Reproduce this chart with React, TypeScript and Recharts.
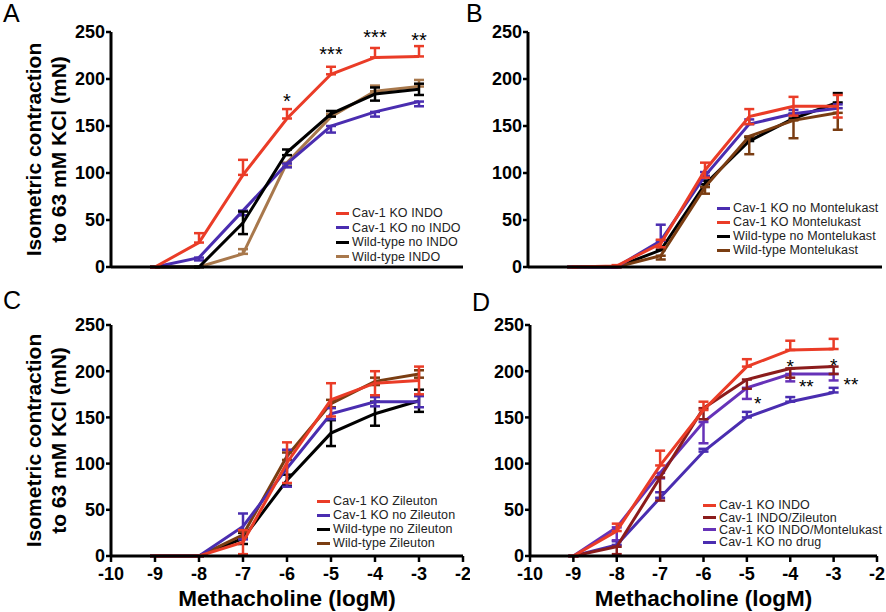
import React from 'react';
import {
    LineChart,
    Line,
    XAxis,
    YAxis,
    ErrorBar,
    Legend,
    ReferenceDot,
} from 'recharts';

const FONT = '"Liberation Sans", Arial, Helvetica, sans-serif';

const doses = [-9, -8, -7, -6, -5, -4, -3];
const xTicks = [-10, -9, -8, -7, -6, -5, -4, -3, -2];
const yTicks = [0, 50, 100, 150, 200, 250];

// colours
const RED = '#ea3c27';
const BLUE = '#4a2db0';
const BLACK = '#000000';
const TAN = '#a8784c';
const BROWN = '#7a3d12';
const DARKRED = '#8b1c1c';
const PURPLE = '#6632b8';

// A: indomethacin
const aKoIndo = [0, 26, 98, 158, 205, 223, 224];
const aKoIndoErr = [[0, 0], [0, 10], [0, 16], [0, 10], [0, 8], [0, 10], [0, 11]];
const aKoNoIndo = [0, 10, 60, 110, 150, 165, 176];
const aKoNoIndoErr = [[0, 0], [3, 0], [5, 0], [4, 0], [7, 0], [5, 0], [5, 0]];
const aWtNoIndo = [0, 0, 47, 122, 163, 184, 189];
const aWtNoIndoErr = [[0, 0], [0, 0], [12, 12], [3, 3], [3, 3], [7, 7], [6, 6]];
const aWtIndo = [0, 0, 14, 111, 160, 187, 192];
const aWtIndoErr = [[0, 0], [0, 0], [0, 5], [4, 0], [0, 3], [0, 6], [0, 7]];
const aStarX = [-6, -5, -4, -3];
const aStarY = [181, 231, 249, 246];
const aStarText = ['*', '***', '***', '**'];

// B: montelukast
const bKoNoMonte = [0, 0, 28, 97, 152, 163, 169];
const bKoNoMonteErr = [[0, 0], [0, 0], [0, 17], [0, 4], [0, 5], [0, 4], [0, 4]];
const bKoMonte = [0, 1, 25, 103, 160, 171, 171];
const bKoMonteErr = [[0, 0], [1, 1], [4, 4], [8, 8], [8, 8], [10, 10], [12, 12]];
const bWtNoMonte = [0, 0, 18, 88, 134, 158, 175];
const bWtNoMonteErr = [[0, 0], [0, 0], [0, 3], [0, 4], [0, 4], [0, 5], [0, 10]];
const bWtMonte = [0, 0, 12, 85, 139, 156, 164];
const bWtMonteErr = [[0, 0], [0, 0], [4, 0], [7, 0], [19, 0], [19, 0], [18, 0]];

// C: zileuton
const cKoZileuton = [0, 0, 15, 101, 169, 187, 190];
const cKoZileutonErr = [[0, 0], [0, 0], [13, 13], [22, 22], [18, 18], [13, 13], [15, 15]];
const cKoNoZileuton = [0, 0, 32, 95, 154, 167, 167];
const cKoNoZileutonErr = [[0, 0], [0, 0], [14, 14], [20, 20], [6, 6], [5, 5], [6, 6]];
const cWtNoZileuton = [0, 0, 19, 82, 133, 154, 168];
const cWtNoZileutonErr = [[0, 0], [0, 0], [6, 6], [6, 6], [14, 14], [13, 13], [12, 12]];
const cWtZileuton = [0, 0, 23, 108, 165, 189, 197];
const cWtZileutonErr = [[0, 0], [0, 0], [3, 3], [4, 4], [4, 4], [4, 4], [4, 4]];

// D: combinations
const dKoIndo = [0, 27, 98, 158, 205, 223, 224];
const dKoIndoErr = [[0, 0], [0, 8], [0, 16], [0, 9], [0, 8], [0, 10], [0, 11]];
const dIndoZileuton = [0, 10, 85, 160, 191, 203, 205];
const dIndoZileutonErr = [[0, 0], [8, 0], [25, 0], [12, 0], [10, 0], [10, 0], [8, 0]];
const dIndoMonte = [0, 31, 90, 145, 182, 197, 197];
const dIndoMonteErr = [[0, 0], [14, 0], [6, 0], [23, 0], [12, 0], [8, 0], [7, 0]];
const dNoDrug = [0, 12, 63, 113, 150, 167, 177];
const dNoDrugErr = [[0, 0], [0, 4], [0, 6], [0, 3], [0, 6], [0, 5], [0, 5]];
const dStarX = [-4, -3, -3.63, -4.75, -2.6];
const dStarY = [210, 211, 188, 170, 190];
const dStarText = ['*', '*', '**', '*', '**'];

type Series = {
    key: string;
    name: string;
    color: string;
    values: number[];
    err: number[][];
};

const buildRows = (series: Series[]) =>
    doses.map((x, i) => {
        const row: any = { x };
        series.forEach((s) => {
            row[s.key] = s.values[i];
            row[s.key + 'Err'] = s.err[i];
        });
        return row;
    });

const LegendBox = ({ items, rowHeight }: { items: Series[]; rowHeight: number }) => (
    <div style={{ fontFamily: FONT, fontSize: 12.5, letterSpacing: 0.1, color: '#222' }}>
        {items.map((s) => (
            <div
                key={s.key}
                style={{ display: 'flex', alignItems: 'center', height: rowHeight, whiteSpace: 'nowrap' }}
            >
                <span
                    style={{
                        display: 'inline-block',
                        width: 13,
                        height: 3,
                        background: s.color,
                        marginRight: 3,
                    }}
                />
                {s.name}
            </div>
        ))}
    </div>
);

const YTitle = (props: any) => {
    const { viewBox } = props;
    const cy = viewBox.y + viewBox.height / 2;
    const style = { fontFamily: FONT, fontSize: 21, fontWeight: 'bold' as const };
    return (
        <g>
            <text transform={`translate(41, ${cy}) rotate(-90)`} textAnchor="middle" fill="#000" style={style}>
                Isometric contraction
            </text>
            <text transform={`translate(66, ${cy}) rotate(-90)`} textAnchor="middle" fill="#000" style={style}>
                to 63 mM KCl (mN)
            </text>
        </g>
    );
};

const starShape = (text: string, size: number) => (p: any) => (
    <text
        x={p.cx}
        y={p.cy + size * 0.57}
        textAnchor="middle"
        fill="#000"
        style={{ fontFamily: FONT, fontSize: size }}
    >
        {text}
    </text>
);

interface PanelProps {
    left: number;
    top: number;
    width: number;
    height: number;
    marginTop: number;
    marginRight: number;
    yAxisWidth: number;
    xAxisHeight: number;
    showXLabels: boolean;
    showYTitle: boolean;
    draw: Series[];
    legend: Series[];
    legendLeft: number;
    legendTop: number;
    legendRow: number;
    stars?: { x: number[]; y: number[]; text: string[]; size: number };
}

const tickStyle = { fill: '#000', fontSize: 18, fontWeight: 'bold', fontFamily: FONT };

const Panel: React.FC<PanelProps> = (p) => {
    const data = buildRows(p.draw);
    return (
        <div style={{ position: 'absolute', left: p.left, top: p.top }}>
            <LineChart
                width={p.width}
                height={p.height}
                data={data}
                margin={{ top: p.marginTop, right: p.marginRight, bottom: 0, left: 0 }}
            >
                <XAxis
                    dataKey="x"
                    type="number"
                    domain={[-10, -2]}
                    ticks={xTicks}
                    interval={0}
                    height={p.xAxisHeight}
                    axisLine={{ stroke: '#000', strokeWidth: 3 }}
                    tickLine={{ stroke: '#000', strokeWidth: 2.5 }}
                    tickSize={6}
                    tickMargin={5}
                    tick={p.showXLabels ? tickStyle : false}
                    label={
                        p.showXLabels
                            ? {
                                  value: 'Methacholine (logM)',
                                  position: 'insideBottom',
                                  offset: 6,
                                  fill: '#000',
                                  style: { fontFamily: FONT, fontSize: 22.5, fontWeight: 'bold' },
                              }
                            : undefined
                    }
                />
                <YAxis
                    type="number"
                    domain={[0, 250]}
                    ticks={yTicks}
                    width={p.yAxisWidth}
                    axisLine={{ stroke: '#000', strokeWidth: 3 }}
                    tickLine={{ stroke: '#000', strokeWidth: 2.5 }}
                    tickSize={5}
                    tickMargin={1}
                    tick={tickStyle}
                    label={p.showYTitle ? { content: <YTitle /> } : undefined}
                />
                {p.draw.map((s) => (
                    <Line
                        key={s.key}
                        type="linear"
                        dataKey={s.key}
                        name={s.name}
                        stroke={s.color}
                        strokeWidth={3}
                        dot={false}
                        activeDot={false}
                        isAnimationActive={false}
                    >
                        <ErrorBar
                            dataKey={s.key + 'Err'}
                            direction="y"
                            width={5}
                            stroke={s.color}
                            strokeWidth={2.5}
                            isAnimationActive={false}
                        />
                    </Line>
                ))}
                {p.stars &&
                    p.stars.x.map((x, i) => (
                        <ReferenceDot
                            key={i}
                            x={x}
                            y={p.stars!.y[i]}
                            r={0}
                            ifOverflow="visible"
                            shape={starShape(p.stars!.text[i], p.stars!.size)}
                        />
                    ))}
                <Legend
                    layout="vertical"
                    align="center"
                    verticalAlign="middle"
                    wrapperStyle={{ left: p.legendLeft, top: p.legendTop, width: 'auto' }}
                    content={() => <LegendBox items={p.legend} rowHeight={p.legendRow} />}
                />
            </LineChart>
        </div>
    );
};

const letterStyle = (left: number, top: number): React.CSSProperties => ({
    position: 'absolute',
    left,
    top,
    fontFamily: FONT,
    fontSize: 25,
    lineHeight: '27px',
    color: '#000',
});

const App: React.FC = () => {
    const aRed: Series = { key: 'koIndo', name: 'Cav-1 KO INDO', color: RED, values: aKoIndo, err: aKoIndoErr };
    const aBlue: Series = { key: 'koNoIndo', name: 'Cav-1 KO no INDO', color: BLUE, values: aKoNoIndo, err: aKoNoIndoErr };
    const aBlack: Series = { key: 'wtNoIndo', name: 'Wild-type no INDO', color: BLACK, values: aWtNoIndo, err: aWtNoIndoErr };
    const aTan: Series = { key: 'wtIndo', name: 'Wild-type INDO', color: TAN, values: aWtIndo, err: aWtIndoErr };

    const bBlue: Series = { key: 'koNoMonte', name: 'Cav-1 KO no Montelukast', color: BLUE, values: bKoNoMonte, err: bKoNoMonteErr };
    const bRed: Series = { key: 'koMonte', name: 'Cav-1 KO Montelukast', color: RED, values: bKoMonte, err: bKoMonteErr };
    const bBlack: Series = { key: 'wtNoMonte', name: 'Wild-type no Montelukast', color: BLACK, values: bWtNoMonte, err: bWtNoMonteErr };
    const bBrown: Series = { key: 'wtMonte', name: 'Wild-type Montelukast', color: BROWN, values: bWtMonte, err: bWtMonteErr };

    const cRed: Series = { key: 'koZil', name: 'Cav-1 KO Zileuton', color: RED, values: cKoZileuton, err: cKoZileutonErr };
    const cBlue: Series = { key: 'koNoZil', name: 'Cav-1 KO no Zileuton', color: BLUE, values: cKoNoZileuton, err: cKoNoZileutonErr };
    const cBlack: Series = { key: 'wtNoZil', name: 'Wild-type no Zileuton', color: BLACK, values: cWtNoZileuton, err: cWtNoZileutonErr };
    const cBrown: Series = { key: 'wtZil', name: 'Wild-type Zileuton', color: BROWN, values: cWtZileuton, err: cWtZileutonErr };

    const dRed: Series = { key: 'koIndo', name: 'Cav-1 KO INDO', color: RED, values: dKoIndo, err: dKoIndoErr };
    const dDark: Series = { key: 'indoZil', name: 'Cav-1 INDO/Zileuton', color: DARKRED, values: dIndoZileuton, err: dIndoZileutonErr };
    const dPurple: Series = { key: 'indoMonte', name: 'Cav-1 KO INDO/Montelukast', color: PURPLE, values: dIndoMonte, err: dIndoMonteErr };
    const dBlue: Series = { key: 'noDrug', name: 'Cav-1 KO no drug', color: BLUE, values: dNoDrug, err: dNoDrugErr };

    return (
        <div style={{ position: 'absolute', left: 0, top: 0, width: 886, height: 612, background: '#fff' }}>
            <Panel
                left={0} top={0} width={470} height={290}
                marginTop={32} marginRight={7} yAxisWidth={111} xAxisHeight={23}
                showXLabels={false} showYTitle
                draw={[aTan, aBlue, aBlack, aRed]}
                legend={[aRed, aBlue, aBlack, aTan]}
                legendLeft={336} legendTop={206} legendRow={14.5}
                stars={{ x: aStarX, y: aStarY, text: aStarText, size: 20 }}
            />
            <Panel
                left={440} top={0} width={446} height={290}
                marginTop={32} marginRight={4} yAxisWidth={88} xAxisHeight={23}
                showXLabels={false} showYTitle={false}
                draw={[bBlack, bBrown, bBlue, bRed]}
                legend={[bBlue, bRed, bBlack, bBrown]}
                legendLeft={277} legendTop={201} legendRow={14}
            />
            <Panel
                left={0} top={300} width={470} height={312}
                marginTop={25} marginRight={7} yAxisWidth={111} xAxisHeight={56}
                showXLabels showYTitle
                draw={[cBlack, cBrown, cBlue, cRed]}
                legend={[cRed, cBlue, cBlack, cBrown]}
                legendLeft={317} legendTop={194} legendRow={14}
            />
            <Panel
                left={440} top={300} width={446} height={312}
                marginTop={25} marginRight={9} yAxisWidth={90} xAxisHeight={56}
                showXLabels showYTitle={false}
                draw={[dBlue, dPurple, dDark, dRed]}
                legend={[dRed, dDark, dPurple, dBlue]}
                legendLeft={263} legendTop={199} legendRow={12.4}
                stars={{ x: dStarX, y: dStarY, text: dStarText, size: 19 }}
            />
            <div style={letterStyle(3, 0)}>A</div>
            <div style={letterStyle(466, 0)}>B</div>
            <div style={letterStyle(3, 287)}>C</div>
            <div style={letterStyle(472, 289)}>D</div>
        </div>
    );
};

export default App;
